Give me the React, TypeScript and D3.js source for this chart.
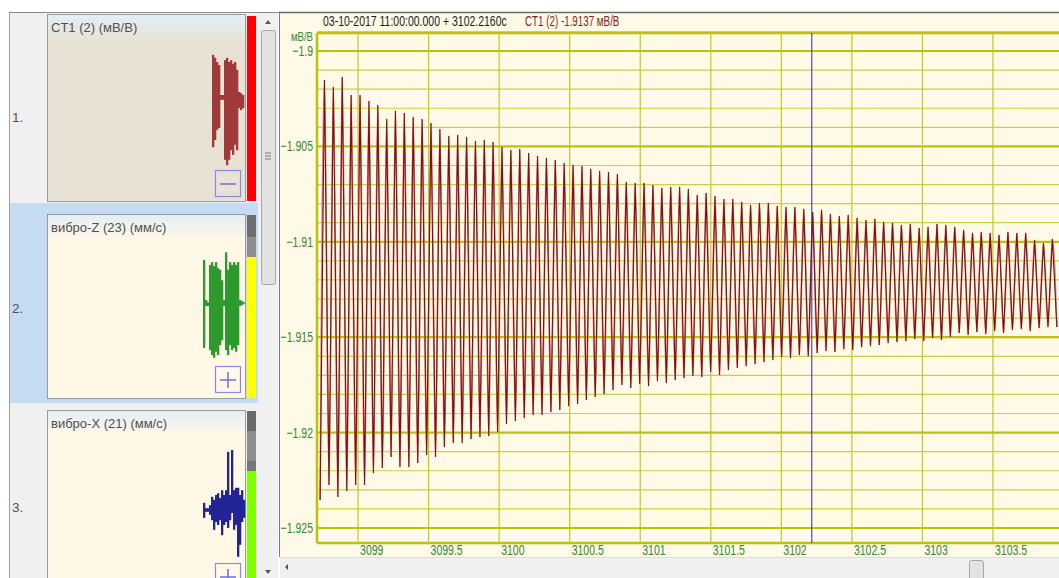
import * as d3 from "d3"

// y axis (мВ/В) and x axis (seconds) tick values
const yTicks = [-1.9, -1.905, -1.91, -1.915, -1.92, -1.925]
const xTicks = [3099, 3099.5, 3100, 3100.5, 3101, 3101.5, 3102, 3102.5, 3103, 3103.5]

const cursorTime = 3102.216
const headerTime = "03-10-2017 11:00:00.000 + 3102.2160с"
const headerValue = "CT1 (2) -1.9137 мВ/В"

// CT1 signal, read cycle by cycle: troughs and peaks
const troughTimes = [
  3098.731, 3098.794, 3098.857, 3098.92, 3098.983, 3099.046, 3099.109, 3099.172, 3099.234, 3099.297,
  3099.36, 3099.423, 3099.486, 3099.549, 3099.612, 3099.675, 3099.738, 3099.801, 3099.864, 3099.926,
  3099.989, 3100.052, 3100.115, 3100.178, 3100.241, 3100.304, 3100.367, 3100.43, 3100.493, 3100.556,
  3100.618, 3100.681, 3100.744, 3100.807, 3100.87, 3100.933, 3100.996, 3101.059, 3101.122, 3101.185,
  3101.248, 3101.31, 3101.373, 3101.436, 3101.499, 3101.562, 3101.625, 3101.688, 3101.751, 3101.814,
  3101.877, 3101.94, 3102.002, 3102.065, 3102.128, 3102.191, 3102.254, 3102.317, 3102.38, 3102.443,
  3102.506, 3102.569, 3102.632, 3102.694, 3102.757, 3102.82, 3102.883, 3102.946, 3103.009, 3103.072,
  3103.135, 3103.198, 3103.261, 3103.324, 3103.386, 3103.449, 3103.512, 3103.575, 3103.638, 3103.701,
  3103.764, 3103.827, 3103.89, 3103.953,
]
const troughValues = [
  -1.92353, -1.92275, -1.92337, -1.92306, -1.92275, -1.92275, -1.92212, -1.92185, -1.92128, -1.9218,
  -1.9218, -1.92159, -1.92117, -1.92128, -1.92075, -1.92054, -1.92054, -1.92034, -1.92023, -1.92018,
  -1.91997, -1.91955, -1.91939, -1.91923, -1.91908, -1.91908, -1.91892, -1.91882, -1.91861, -1.9185,
  -1.91829, -1.91813, -1.91798, -1.91777, -1.9175, -1.91766, -1.91745, -1.91756, -1.9173, -1.9174,
  -1.91724, -1.91714, -1.91703, -1.91709, -1.91682, -1.91698, -1.91672, -1.91661, -1.91651, -1.9164,
  -1.9163, -1.91619, -1.91604, -1.91609, -1.91593, -1.91599, -1.91583, -1.91572, -1.91578, -1.91562,
  -1.91567, -1.91551, -1.91546, -1.91541, -1.9153, -1.91525, -1.9152, -1.91509, -1.9152, -1.91504,
  -1.91515, -1.91499, -1.91478, -1.91488, -1.91473, -1.91483, -1.91467, -1.91478, -1.91462, -1.91457,
  -1.91467, -1.91452, -1.91447, -1.91447,
]
const peakTimes = [
  3098.762, 3098.825, 3098.888, 3098.951, 3099.014, 3099.077, 3099.14, 3099.203, 3099.265, 3099.328,
  3099.391, 3099.454, 3099.517, 3099.58, 3099.643, 3099.706, 3099.769, 3099.832, 3099.895, 3099.957,
  3100.02, 3100.083, 3100.146, 3100.209, 3100.272, 3100.335, 3100.398, 3100.461, 3100.524, 3100.587,
  3100.649, 3100.712, 3100.775, 3100.838, 3100.901, 3100.964, 3101.027, 3101.09, 3101.153, 3101.216,
  3101.279, 3101.341, 3101.404, 3101.467, 3101.53, 3101.593, 3101.656, 3101.719, 3101.782, 3101.845,
  3101.908, 3101.971, 3102.033, 3102.096, 3102.159, 3102.222, 3102.285, 3102.348, 3102.411, 3102.474,
  3102.537, 3102.6, 3102.663, 3102.725, 3102.788, 3102.851, 3102.914, 3102.977, 3103.04, 3103.103,
  3103.166, 3103.229, 3103.292, 3103.355, 3103.417, 3103.48, 3103.543, 3103.606, 3103.669, 3103.732,
  3103.795, 3103.858, 3103.921,
]
const peakValues = [
  -1.90152, -1.90189, -1.90136, -1.90231, -1.90231, -1.90262, -1.90283, -1.90356, -1.90314, -1.90325,
  -1.90346, -1.90356, -1.90377, -1.90409, -1.90445, -1.9044, -1.90451, -1.90472, -1.90466, -1.90477,
  -1.90503, -1.90519, -1.90514, -1.90535, -1.9055, -1.90561, -1.90571, -1.90587, -1.90597, -1.90603,
  -1.90618, -1.90629, -1.90634, -1.90645, -1.90687, -1.90692, -1.90692, -1.90702, -1.90718, -1.90713,
  -1.90713, -1.90723, -1.90755, -1.90744, -1.9076, -1.90776, -1.90776, -1.90791, -1.90807, -1.90797,
  -1.90797, -1.90812, -1.90818, -1.90818, -1.90828, -1.90844, -1.90833, -1.90854, -1.90865, -1.9086,
  -1.90875, -1.90886, -1.9088, -1.90896, -1.90901, -1.90912, -1.90907, -1.90928, -1.90922, -1.90907,
  -1.90912, -1.90922, -1.90938, -1.90954, -1.90949, -1.90954, -1.90964, -1.90949, -1.90954, -1.90954,
  -1.90991, -1.91006, -1.90985,
]

// overview thumbnails: per-column max / min (normalised)
const ct1MiniHi = [0.92, 0.87, 0.8, 0.75, 0.25, 0.25, 0.83, 0.87, 0.8, 0.83, 0.77, 0.8, 0.67, 0.3, 0.28, 0.25]
const ct1MiniLo = [-0.62, -0.5, -0.33, -0.3, 0.17, 0.17, -0.83, -0.92, -0.83, -0.67, -0.75, -0.58, -0.67, 0.03, 0, 0.03]
const vibZMiniHi = [0.82, 0.09, 0.05, 0.73, 0.78, 0.71, 0.78, 0.67, 0.64, 0.45, 0.09, 0.96, 0.64, 0.78, 0.73, 0.78, 0.73, 0.78, 0.09, 0.07]
const vibZMiniLo = [-0.78, -0.02, -0.02, -0.82, -0.91, -0.96, -0.85, -0.91, -0.73, -0.64, -0.02, -0.82, -0.91, -0.73, -0.82, -0.78, -0.85, -0.73, -0.02, 0]
const vibXMiniHi = [0.12, 0.03, 0.03, 0.08, 0.22, 0.17, 0.25, 0.28, 0.2, 0.33, 0.25, 0.33, 0.97, 0.25, 1.0, 0.33, 0.37, 0.37, 0.25, 0.33, 0.17]
const vibXMiniLo = [-0.13, -0.03, -0.03, -0.08, -0.17, -0.33, -0.2, -0.25, -0.17, -0.42, -0.25, -0.2, -0.3, -0.17, -0.05, -0.33, -0.25, -0.78, -0.58, -0.2, -0.13]

const W = 1059
const H = 578
const uiFont = "Arial, 'Liberation Sans', sans-serif"
const green = "#2e8b2e"

// Arial squeezed horizontally, like the narrow font of the original program
function Narrow({ x, y, anchor = "start", size = 15, sx = 0.7, fill = green, children }: {
  x: number; y: number; anchor?: string; size?: number; sx?: number; fill?: string; children: any
}) {
  return (
    <text transform={`translate(${x},${y}) scale(${sx},1)`} textAnchor={anchor} fontFamily={uiFont} fontSize={size} fill={fill}>
      {children}
    </text>
  )
}

function MiniTrace({ hi, lo, x0, x1, yTop, yBottom, color }: {
  hi: number[]; lo: number[]; x0: number; x1: number; yTop: number; yBottom: number; color: string
}) {
  const xs = d3.scaleBand<number>().domain(d3.range(hi.length)).range([x0, x1])
  const ys = d3.scaleLinear().domain([-1, 1]).range([yBottom, yTop])
  return (
    <g>
      {hi.map((h, i) => (
        <rect key={i} x={xs(i)} width={xs.bandwidth() + 0.3} y={ys(h)} height={Math.max(1.5, ys(lo[i]) - ys(h))} fill={color} />
      ))}
    </g>
  )
}

function Card({ y0, h, title, bodyFill, gid }: { y0: number; h: number; title: string; bodyFill: string; gid: string }) {
  return (
    <g>
      <defs>
        <linearGradient id={gid} x1="0" y1="0" x2="0" y2="1">
          <stop offset="0" stopColor="#e4eef4" />
          <stop offset="1" stopColor={bodyFill} />
        </linearGradient>
      </defs>
      <rect x={47.5} y={y0 + 0.5} width={198} height={h} fill={bodyFill} stroke="#9a9a9a" />
      <rect x={48} y={y0 + 1} width={197} height={26} fill={`url(#${gid})`} />
      <text x={51} y={y0 + 18} fontFamily={uiFont} fontSize={13} fill="#505050">{title}</text>
    </g>
  )
}

function ZoomButton({ y0, plus }: { y0: number; plus: boolean }) {
  return (
    <g>
      <rect x={215.5} y={y0 + 0.5} width={25} height={26} fill="none" stroke="#8a8ae6" strokeWidth={1.2} />
      <line x1={220} x2={236} y1={y0 + 14} y2={y0 + 14} stroke="#7070dd" strokeWidth={1.5} />
      {plus && <line x1={228} x2={228} y1={y0 + 6} y2={y0 + 22} stroke="#7070dd" strokeWidth={1.5} />}
    </g>
  )
}

export default function App() {
  const left = 317
  const top = 33
  const bottom = 543
  const panelBottom = 557
  const x = d3.scaleLinear().domain([3098.709, 3103.968]).range([left, W])
  const y = d3.scaleLinear().domain([-1.925786, -1.899057]).range([bottom, top])

  const points: [number, number][] = d3.sort(
    [
      ...troughTimes.map((t, i) => [t, troughValues[i]] as [number, number]),
      ...peakTimes.map((t, i) => [t, peakValues[i]] as [number, number]),
    ],
    (d) => d[0],
  )
  const line = d3.line<[number, number]>().x((d) => x(d[0])).y((d) => y(d[1]))
  const smooth = d3.line<[number, number]>().x((d) => x(d[0])).y((d) => y(d[1])).curve(d3.curveMonotoneX)

  const minor = d3.range(0, 27).map((i) => -1.925 + i * 0.001).filter((v) => !yTicks.some((t) => Math.abs(t - v) < 1e-6))
  const fmt = d3.format("~g")

  return (
    <div style={{ position: "fixed", left: 0, top: 0, width: W, height: H, overflow: "hidden" }}>
      <svg width={W} height={H} style={{ display: "block" }}>
        <rect width={W} height={H} fill="#ffffff" />

        {/* left list of channels */}
        <rect x={9} y={12} width={250} height={H - 12} fill="#f0f0f0" />
        <rect x={9} y={203} width={250} height={200} fill="#c4dbf1" />
        <line x1={9.5} x2={9.5} y1={12} y2={H} stroke="#a0a0a0" />
        <line x1={9} x2={279} y1={12.5} y2={12.5} stroke="#8a8a8a" />

        <text x={12} y={122} fontFamily={uiFont} fontSize={13.5} fill="#555">1.</text>
        <text x={12} y={313} fontFamily={uiFont} fontSize={13.5} fill="#555">2.</text>
        <text x={12} y={512} fontFamily={uiFont} fontSize={13.5} fill="#555">3.</text>

        <Card y0={14} h={187} title="CT1 (2) (мВ/В)" bodyFill="#e8e2d5" gid="g1" />
        <Card y0={214} h={184} title="вибро-Z (23) (мм/с)" bodyFill="#fff8e7" gid="g2" />
        <Card y0={410} h={200} title="вибро-X (21) (мм/с)" bodyFill="#fff8e7" gid="g3" />

        <MiniTrace hi={ct1MiniHi} lo={ct1MiniLo} x0={212} x1={244} yTop={50} yBottom={170} color="#a03a3a" />
        <MiniTrace hi={vibZMiniHi} lo={vibZMiniLo} x0={203} x1={243} yTop={250} yBottom={360} color="#2e9a2e" />
        <line x1={222} x2={245} y1={303} y2={303} stroke="#2e9a2e" strokeWidth={1.5} />
        <MiniTrace hi={vibXMiniHi} lo={vibXMiniLo} x0={203} x1={245} yTop={450} yBottom={570} color="#232398" />

        <ZoomButton y0={170} plus={false} />
        <ZoomButton y0={366} plus={true} />
        <ZoomButton y0={563} plus={true} />

        {/* level bars */}
        <rect x={247} y={16} width={9} height={185} fill="#ff0000" />
        <rect x={247} y={215} width={9} height={22} fill="#6e6e6e" />
        <rect x={247} y={237} width={9} height={20} fill="#8e8e8e" />
        <rect x={247} y={257} width={9} height={141} fill="#ffff00" />
        <rect x={247} y={411} width={9} height={20} fill="#6a6a6a" />
        <rect x={247} y={431} width={9} height={30} fill="#8e8e8e" />
        <rect x={247} y={461} width={9} height={10} fill="#767680" />
        <rect x={247} y={471} width={9} height={110} fill="#80ff00" />

        {/* vertical scrollbar */}
        <rect x={258} y={13} width={20} height={H - 13} fill="#f0f0f0" />
        <path d="M265,24 L268,20 L271,24 Z" fill="#555" />
        <rect x={261.5} y={30.5} width={14} height={254} rx={2} fill="#e2e2e2" stroke="#a8a8a8" />
        <line x1={265} x2={271} y1={153} y2={153} stroke="#777" />
        <line x1={265} x2={271} y1={156} y2={156} stroke="#777" />
        <line x1={265} x2={271} y1={159} y2={159} stroke="#777" />
        <path d="M265,570 L268,574 L271,570 Z" fill="#555" />

        {/* main chart panel */}
        <rect x={279} y={12} width={W - 279} height={panelBottom - 12} fill="#fff9e8" />
        <line x1={279.5} x2={279.5} y1={12} y2={panelBottom} stroke="#7a7a7a" />
        <line x1={279} x2={W} y1={12.5} y2={12.5} stroke="#6e6e6e" strokeWidth={1.5} />

        <Narrow x={323} y={26} size={14} sx={0.75} fill="#1e1e1e">{headerTime}</Narrow>
        <Narrow x={525} y={26} size={14} sx={0.7} fill="#8b1a1a">{headerValue}</Narrow>

        {/* grid */}
        {minor.map((v) => (
          <line key={v} x1={left} x2={W} y1={y(v)} y2={y(v)} stroke="#cccf45" strokeWidth={1.2} />
        ))}
        {xTicks.map((t) => (
          <line key={t} x1={x(t)} x2={x(t)} y1={top} y2={bottom} stroke="#c2c722" strokeWidth={1.2} />
        ))}
        {yTicks.map((v) => (
          <line key={v} x1={left} x2={W} y1={y(v)} y2={y(v)} stroke="#bcc20a" strokeWidth={2.2} />
        ))}
        <line x1={left} x2={W} y1={top} y2={top} stroke="#bcc20a" strokeWidth={2.5} />
        <line x1={left} x2={W} y1={bottom} y2={bottom} stroke="#bcc20a" strokeWidth={2.5} />
        <line x1={left} x2={left} y1={top} y2={bottom} stroke="#bcc20a" strokeWidth={2.5} />

        {/* signal */}
        <defs>
          <clipPath id="plot">
            <rect x={left + 1} y={top} width={W - left} height={bottom - top} />
          </clipPath>
        </defs>
        <g clipPath="url(#plot)">
          <path d={smooth(points) ?? ""} fill="none" stroke="#c08888" strokeWidth={1.6} />
          <path d={line(points) ?? ""} fill="none" stroke="#860d0d" strokeWidth={1.1} />
        </g>

        {/* cursor */}
        <line x1={x(cursorTime)} x2={x(cursorTime)} y1={top} y2={bottom} stroke="#2a2ab0" strokeWidth={1} />

        {/* axis labels */}
        <Narrow x={313} y={41} anchor="end" size={12} sx={0.8}>мВ/В</Narrow>
        {yTicks.map((v) => (
          <Narrow key={v} x={313} y={y(v) + 5} anchor="end">{fmt(v)}</Narrow>
        ))}
        {xTicks.map((t) => (
          <Narrow key={t} x={x(t) + 2} y={555}>{fmt(t)}</Narrow>
        ))}

        {/* horizontal scrollbar */}
        <rect x={280} y={panelBottom} width={W - 280} height={H - panelBottom} fill="#f0f0f0" />
        <line x1={280} x2={W} y1={panelBottom + 0.5} y2={panelBottom + 0.5} stroke="#dcdcdc" />
        <path d="M288,564 L285,567 L288,570 Z" fill="#555" />
        <rect x={969.5} y={560.5} width={14} height={20} rx={2} fill="#e2e2e2" stroke="#a8a8a8" />
      </svg>
    </div>
  )
}
